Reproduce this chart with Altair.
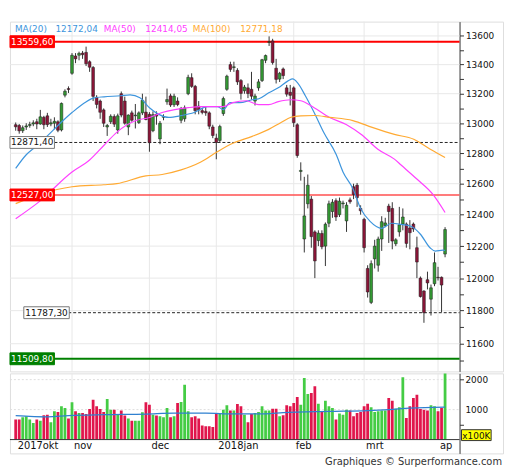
import altair as alt
import pandas as pd

# ---------------- data ----------------
OPEN = [12990, 12985, 12950, 12975, 12985, 12995, 13010, 12995, 13040, 13050,
        12995, 13000, 13010, 12955, 13190, 13235, 13340, 13460, 13465, 13480,
        13485, 13420, 13380, 13175, 13150, 13090, 12975, 13010, 13045, 12955,
        13200, 13150, 12975, 13070, 13050, 13005, 13070, 13075, 13060, 12950,
        13060, 12895, 13040, 13145, 13185, 13125, 13150, 13020, 13030, 13200,
        13310, 13250, 13115, 13085, 13080, 13070, 12975, 12900, 12885, 13065,
        13230, 13400, 13380, 13360, 13290, 13220, 13240, 13230, 13150, 13240,
        13290, 13430, 13555, 13565, 13375, 13300, 13370, 13240, 13210, 13240,
        12990, 12680, 12245, 12470, 12500, 12290, 12235, 12280, 12200, 12345,
        12420, 12490, 12400, 12470, 12360, 12495, 12580, 12590, 12440, 12370,
        12060, 11850, 12120, 12080, 12245, 12330, 12455, 12440, 12215, 12290,
        12340, 12340, 12315, 12340, 12190, 12000, 11920, 11990, 11870, 11965,
        12005, 12005, 12150]
HIGH = [13005, 12995, 12985, 13000, 13010, 13020, 13030, 13090, 13050, 13070,
        13030, 13040, 13020, 13140, 13230, 13250, 13480, 13480, 13490, 13495,
        13525, 13430, 13390, 13190, 13160, 13100, 12995, 13060, 13060, 13065,
        13215, 13180, 13060, 13085, 13130, 13080, 13200, 13180, 13075, 13080,
        13080, 13015, 13060, 13235, 13200, 13200, 13175, 13110, 13120, 13330,
        13340, 13260, 13150, 13105, 13110, 13080, 12990, 12930, 12990, 13180,
        13330, 13420, 13420, 13375, 13300, 13260, 13270, 13350, 13200, 13300,
        13440, 13470, 13597, 13580, 13440, 13350, 13380, 13260, 13260, 13250,
        13000, 12740, 12645, 12660, 12520, 12300, 12300, 12300, 12350, 12490,
        12500, 12505, 12510, 12490, 12480, 12510, 12600, 12605, 12460, 12380,
        12080, 12110, 12240, 12260, 12390, 12380, 12470, 12480, 12250, 12450,
        12440, 12350, 12365, 12350, 12260, 12010, 11925, 12040, 11960, 12160,
        12070, 12010, 12320]
LOW = [12950, 12930, 12935, 12955, 12970, 12980, 12960, 12990, 12960, 12975,
       12980, 12960, 12940, 12945, 13175, 13205, 13330, 13410, 13430, 13440,
       13390, 13350, 13150, 13100, 13030, 12975, 12915, 12995, 12975, 12930,
       13040, 12990, 12920, 13010, 12965, 12995, 13055, 13020, 12810, 12940,
       12990, 12860, 13020, 13125, 13110, 13110, 13115, 13000, 13010, 13190,
       13240, 13060, 13060, 13060, 13050, 12960, 12900, 12760, 12870, 13050,
       13220, 13350, 13350, 13260, 13160, 13200, 13170, 13160, 13120, 13220,
       13280, 13410, 13530, 13400, 13270, 13280, 13300, 13180, 13120, 12975,
       12770, 12620, 12160, 12440, 12190, 12000, 12200, 12180, 12075, 12320,
       12380, 12360, 12385, 12440, 12290, 12470, 12500, 12450, 12400, 12160,
       11880, 11840, 12060, 12040, 12170, 12320, 12220, 12180, 12200, 12260,
       12300, 12190, 12180, 12290, 12000, 11880, 11726, 11930, 11770, 11950,
       11985, 11790, 12130]
CLOSE = [12976, 12949, 12970, 12982, 12992, 13003, 12995, 13043, 12990, 12991,
         13003, 13013, 12953, 13134, 13217, 13229, 13465, 13440, 13478, 13469,
         13406, 13382, 13182, 13127, 13074, 13000, 12985, 13047, 12994, 13050,
         13055, 13000, 13055, 13020, 13055, 13070, 13155, 13025, 12870, 13058,
         13048, 13000, 13045, 13160, 13123, 13183, 13126, 13100, 13104, 13312,
         13250, 13085, 13090, 13073, 13070, 12980, 12918, 12871.4, 12978, 13167,
         13320, 13367, 13385, 13281, 13202, 13245, 13201, 13183, 13184, 13281,
         13434, 13463, 13559.6, 13414, 13298, 13340, 13324, 13197, 13189, 13004,
         12785, 12687, 12392, 12590, 12260, 12107, 12282, 12196, 12339, 12470,
         12480, 12385, 12487, 12475, 12461, 12483, 12530, 12510, 12425, 12190,
         11914, 12090, 12200, 12245, 12355, 12347, 12420, 12232, 12240, 12335,
         12385, 12217, 12285, 12309, 12100, 11886, 11787.3, 11970, 11940, 12096,
         12002, 11957, 12305]
VOLUME = [666, 666, 743, 777, 666, 555, 666, 632, 810, 832,
          577, 943, 921, 1110, 1055, 700, 1243, 943, 888, 888,
          855, 1021, 1332, 1110, 1021, 921, 1355, 999, 999, 855,
          966, 800, 700, 632, 632, 632, 910, 1243, 1166, 832,
          800, 777, 743, 1055, 743, 777, 1221, 1255, 1832, 943,
          743, 777, 700, 466, 444, 444, 421, 855, 855, 999,
          1143, 966, 966, 1188, 1110, 832, 577, 855, 888, 921,
          1110, 966, 966, 1032, 1032, 777, 810, 1143, 1110, 1221,
          1421, 1166, 2054, 1521, 1554, 1777, 1199, 921, 1299, 1110,
          1055, 666, 866, 832, 999, 966, 777, 888, 921, 1110,
          1199, 1077, 921, 943, 966, 966, 1388, 1299, 1032, 1077,
          2077, 721, 1110, 1388, 1499, 1021, 999, 966, 1143, 1110,
          943, 1055, 2300]

# moving averages (index, value)
MA20_IDX = [0, 3, 6, 9, 12, 16, 19.6, 22.3, 25.1, 29.8, 32.5, 35.3, 38, 40.8, 43.5,
            47.1, 50.7, 54.5, 57.3, 59, 60.9, 63.6, 67.2, 69.1, 71.9, 74.6, 77.4,
            78.7, 80.1, 82.3, 84.8, 87.5, 91.1, 93, 95.8, 98, 100.7, 104, 106.8,
            109.5, 112.3, 115, 117.8, 119.2, 121.4, 122]
MA20_VAL = [12700, 12790, 12850, 12915, 12985, 13072, 13139, 13172, 13179, 13186,
            13192, 13172, 13105, 13058, 13039, 13052, 13072, 13112, 13112, 13092,
            13139, 13139, 13159, 13166, 13206, 13240, 13288, 13301, 13274, 13186,
            13072, 12939, 12790, 12677, 12569, 12440, 12357, 12313, 12345, 12338,
            12326, 12275, 12188, 12169, 12175, 12172.04]
MA50_IDX = [0, 6.7, 16, 21, 25.1, 28.7, 34.2, 38, 41.6, 45.2, 49, 52.6, 58.9, 61.7,
            65.5, 69.1, 71.9, 74.6, 78.2, 81, 84.8, 89.2, 93.9, 98.5, 102.9, 107.6,
            109.5, 113.9, 118.6, 122]
MA50_VAL = [12374, 12484, 12677, 12755, 12853, 12939, 13018, 13039, 13072, 13092,
            13105, 13112, 13112, 13139, 13152, 13126, 13126, 13146, 13159, 13152,
            13105, 13039, 12992, 12919, 12826, 12761, 12722, 12632, 12529, 12414.05]
MA100_IDX = [0, 6.7, 16, 25, 28.7, 37, 41.6, 47, 52.6, 57.3, 61.7, 67.2, 71.9, 75.4,
             78.2, 81, 84.8, 89.2, 95.8, 101.3, 107.6, 113.1, 117.8, 122]
MA100_VAL = [12471, 12529, 12580, 12593, 12600, 12651, 12660, 12690, 12742, 12810,
             12866, 12912, 12959, 13005, 13040, 13050, 13052, 13040, 13018, 12972,
             12925, 12893, 12826, 12771.18]
VOLMA_IDX = [0, 9, 15, 25, 37, 45, 54, 62, 71, 76, 89, 100, 106, 112, 122]
VOLMA_VAL = [800, 760, 800, 830, 850, 880, 880, 855, 860, 900, 940, 966, 1000, 1050, 1080]

MONTH_LABELS = ["2017okt", "nov", "dec", "2018jan", "feb", "mrt", "ap"]
MONTH_START = [0, 16, 38, 57, 79, 99, 120]

PRICE_LABELS = [11600, 11800, 12000, 12200, 12400, 12600, 12800, 13000, 13200, 13400, 13600]
PRICE_TICKS = [11500, 11600, 11700, 11800, 11900, 12000, 12100, 12200, 12300, 12400,
               12500, 12600, 12700, 12800, 12900, 13000, 13100, 13200, 13300, 13400,
               13500, 13600]
VOL_LABELS = [1000, 2000]
VOL_TICKS = [500, 1000, 1500, 2000]

LEVELS = [13559.60, 12871.40, 12527.00, 11787.30, 11509.80]
LEGEND = [("MA(20)", "12172,04"), ("MA(50)", "12414,05"), ("MA(100)", "12771,18")]
CREDIT = "Graphiques © Surperformance.com"

# ---------------- styling / layout ----------------
FONT = "DejaVu Sans"
W, H_MAIN, H_VOL = 499, 354, 81
X_DOMAIN = [-0.22, 137.06]
AXIS_PX = 455
ZERO_PX = 67
UP, DOWN = "#339933", "#8b1538"
VUP, VDOWN = "#44cc44", "#e0164c"
MA_COLORS = ["#3d95dd", "#ff40ff", "#ffaa33"]

df = pd.DataFrame({"idx": list(range(len(CLOSE))), "open": OPEN, "high": HIGH,
                   "low": LOW, "close": CLOSE, "vol": VOLUME})
df["dir"] = ["up" if c >= o else "down" for o, c in zip(OPEN, CLOSE)]
df["vdir"] = ["vup" if c >= o else "vdown" for o, c in zip(OPEN, CLOSE)]

xs = alt.Scale(domain=X_DOMAIN, nice=False, zero=False)
ys = alt.Scale(type="log", domain=[11435, 13701], nice=False)
vs = alt.Scale(domain=[-461, 2208], nice=False, zero=False)
X = alt.X("idx:Q", scale=xs, axis=None)

axis_common = dict(orient="right", offset=-44, grid=False, domainColor="#333",
                   tickColor="#333", tickSize=4, labelFont=FONT, labelFontSize=9,
                   labelColor="#111", labelPadding=2, labelOverlap=False, title=None)
yaxis = alt.Axis(values=PRICE_TICKS,
                 labelExpr="indexof(%s, datum.value) >= 0 ? format(datum.value, 'd') : ''" % str(PRICE_LABELS),
                 **axis_common)
vaxis = alt.Axis(values=VOL_TICKS, labels=False, **axis_common)

# ---------------- main panel ----------------
hgrid = alt.Chart(pd.DataFrame({"p": PRICE_LABELS})).mark_rule(color="#e8e8e8").encode(
    y=alt.Y("p:Q", scale=ys, axis=yaxis), x=alt.value(0), x2=alt.value(AXIS_PX))
vgrid = alt.Chart(pd.DataFrame({"idx": MONTH_START[1:]})).mark_rule(color="#e8e8e8").encode(
    x=X, y=alt.value(0), y2=alt.value(H_MAIN))

level_style = [
    dict(color="#ff0000", width=2, dash=[1, 0], fill="#ff0000", stroke="#ff0000", text="white", x0=0, x1=45, lx=0),
    dict(color="#222222", width=1, dash=[3, 2], fill="white", stroke="#777777", text="#111", x0=0, x1=45, lx=0),
    dict(color="#ff5050", width=1.5, dash=[1, 0], fill="#ff0000", stroke="#ff0000", text="white", x0=0, x1=45, lx=0),
    dict(color="#222222", width=1, dash=[3, 2], fill="white", stroke="#777777", text="#111", x0=14, x1=60, lx=14),
    dict(color="#008000", width=2, dash=[1, 0], fill="#008000", stroke="#008000", text="white", x0=0, x1=45, lx=0),
]
level_lines, level_labels = [], []
for v, st in zip(LEVELS, level_style):
    d = pd.DataFrame({"p": [v], "lab": [f"{v:.2f}".replace(".", ",")]})
    level_lines.append(alt.Chart(d).mark_rule(color=st["color"], strokeWidth=st["width"],
                                              strokeDash=st["dash"]).encode(
        y=alt.Y("p:Q", scale=ys), x=alt.value(st["lx"]), x2=alt.value(AXIS_PX)))
    level_labels.append(alt.Chart(d).mark_rect(fill=st["fill"], stroke=st["stroke"], strokeWidth=1,
                                               yOffset=-6, y2Offset=6).encode(
        y=alt.Y("p:Q", scale=ys), y2="p:Q", x=alt.value(st["x0"]), x2=alt.value(st["x1"])))
    level_labels.append(alt.Chart(d).mark_text(font=FONT, fontSize=9, color=st["text"],
                                               align="center", baseline="middle").encode(
        y=alt.Y("p:Q", scale=ys), x=alt.value((st["x0"] + st["x1"]) / 2), text="lab:N"))

wicks = alt.Chart(df).mark_rule(color="#333333", strokeWidth=1).encode(
    x=X, y=alt.Y("low:Q", scale=ys), y2="high:Q")
bodies = alt.Chart(df).mark_bar(size=2.8, stroke="#1a1a1a", strokeWidth=0.5).encode(
    x=X, y=alt.Y("open:Q", scale=ys), y2="close:Q",
    color=alt.Color("dir:N", scale=alt.Scale(domain=["up", "down"], range=[UP, DOWN]), legend=None))

ma_layers = []
for (ix, vals), col in zip([(MA20_IDX, MA20_VAL), (MA50_IDX, MA50_VAL), (MA100_IDX, MA100_VAL)], MA_COLORS):
    ma_layers.append(alt.Chart(pd.DataFrame({"idx": ix, "v": vals})).mark_line(
        color=col, strokeWidth=1.2, interpolate="monotone").encode(x=X, y=alt.Y("v:Q", scale=ys)))

legend_x = [(5, 46), (95, 137), (185, 233)]
legend_layers = []
for (name, val), col, (xa, xb) in zip(LEGEND, MA_COLORS, legend_x):
    d = pd.DataFrame({"t": [name], "v": [val]})
    legend_layers.append(alt.Chart(d).mark_text(font=FONT, fontSize=9, color=col, align="left",
                                                baseline="middle").encode(
        x=alt.value(xa), y=alt.value(7), text="t:N"))
    legend_layers.append(alt.Chart(d).mark_text(font=FONT, fontSize=9, color=col, align="left",
                                                baseline="middle").encode(
        x=alt.value(xb), y=alt.value(7), text="v:N"))

main = alt.layer(hgrid, vgrid, *level_lines, wicks, bodies, *ma_layers, *level_labels,
                 *legend_layers).properties(width=W, height=H_MAIN)

# ---------------- volume panel ----------------
vl = pd.DataFrame({"v": VOL_LABELS, "lab": [str(v) for v in VOL_LABELS]})
vhgrid = alt.Chart(vl).mark_rule(color="#dddddd", strokeDash=[2, 2]).encode(
    y=alt.Y("v:Q", scale=vs, axis=vaxis), x=alt.value(0), x2=alt.value(AXIS_PX))
vlabels = alt.Chart(vl).mark_text(font=FONT, fontSize=9, color="#111", align="left",
                                  baseline="middle").encode(
    y=alt.Y("v:Q", scale=vs), x=alt.value(AXIS_PX + 6), text="lab:N")
vvgrid = alt.Chart(pd.DataFrame({"idx": MONTH_START[1:]})).mark_rule(color="#e8e8e8").encode(
    x=X, y=alt.value(0), y2=alt.value(ZERO_PX))
vbars = alt.Chart(df).mark_bar(size=2.8, clip=True).encode(
    x=X, y=alt.Y("vol:Q", scale=vs),
    color=alt.Color("vdir:N", scale=alt.Scale(domain=["vup", "vdown"], range=[VUP, VDOWN]), legend=None))
vzero = alt.Chart(pd.DataFrame({"v": [0]})).mark_rule(color="#333333").encode(
    y=alt.Y("v:Q", scale=vs), x=alt.value(0), x2=alt.value(AXIS_PX))
vma = alt.Chart(pd.DataFrame({"idx": VOLMA_IDX, "v": VOLMA_VAL})).mark_line(
    color="#2f80d0", strokeWidth=1.3, interpolate="monotone").encode(x=X, y=alt.Y("v:Q", scale=vs))
months = alt.Chart(pd.DataFrame({"idx": MONTH_START, "lab": MONTH_LABELS})).mark_text(
    font=FONT, fontSize=10, color="#111", align="left", baseline="middle", dx=2).encode(
    x=X, y=alt.value(74), text="lab:N")
one = pd.DataFrame({"t": ["x100K"]})
unitbox = alt.Chart(one).mark_rect(fill="#ffff00", stroke="#333333", strokeWidth=1).encode(
    x=alt.value(457), x2=alt.value(487), y=alt.value(57), y2=alt.value(68))
unittxt = alt.Chart(one).mark_text(font=FONT, fontSize=9, color="#111", align="center",
                                   baseline="middle").encode(x=alt.value(472), y=alt.value(63), text="t:N")
credit = alt.Chart(pd.DataFrame({"t": [CREDIT]})).mark_text(
    font=FONT, fontSize=10, color="#333", align="right", baseline="middle").encode(
    x=alt.value(W - 1), y=alt.value(90), text="t:N")

vol = alt.layer(vhgrid, vvgrid, vbars, vzero, vma, vlabels, months, unitbox, unittxt, credit).properties(
    width=W, height=H_VOL)

chart = alt.vconcat(main, vol, spacing=0).resolve_scale(
    x="independent", y="independent", color="independent").properties(
    padding={"left": 0, "top": 10, "right": 0, "bottom": 0}
).configure_view(stroke="#333333", strokeWidth=1).configure(background="white")

chart.save("out.html", embed_options={"renderer": "svg", "actions": False})
